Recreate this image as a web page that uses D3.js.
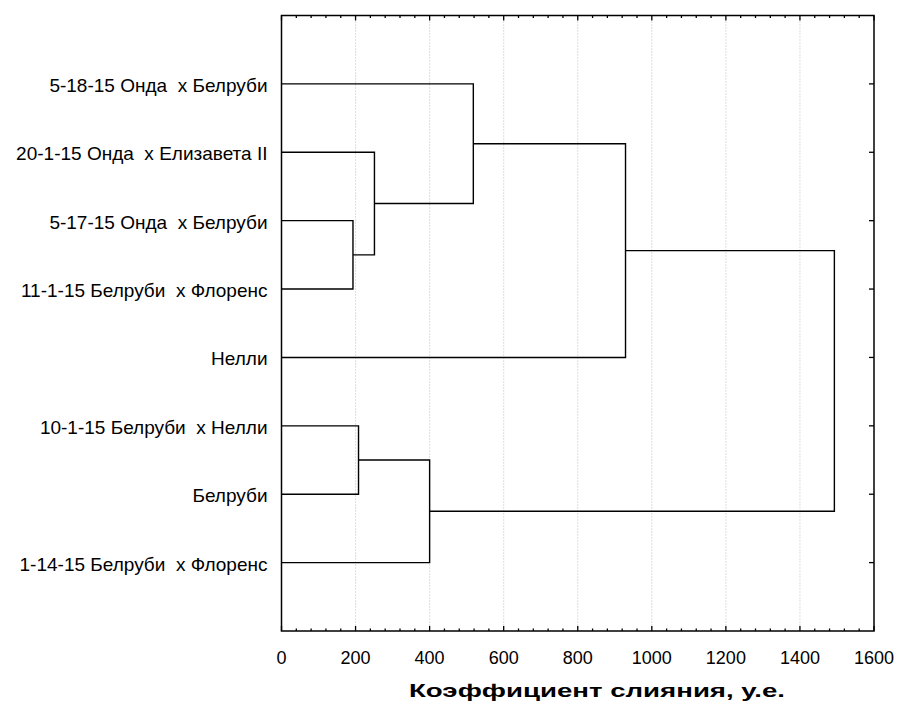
<!DOCTYPE html>
<html>
<head>
<meta charset="utf-8">
<script src="https://cdn.jsdelivr.net/npm/d3@7"></script>
<style>
  body { margin: 0; background: #fff; }
  svg { display: block; }
</style>
</head>
<body>
<div id="container"></div>
<script>
/* CONSTANTS AND GLOBALS */
const width = 898,
  height = 706,
  margin = ({top: 15.5, right: 24, bottom: 75, left: 281.5})

// leaves, top to bottom
const leaves = [
  "5-18-15 Онда  х Белруби",
  "20-1-15 Онда  х Елизавета II",
  "5-17-15 Онда  х Белруби",
  "11-1-15 Белруби  х Флоренс",
  "Нелли",
  "10-1-15 Белруби  х Нелли",
  "Белруби",
  "1-14-15 Белруби  х Флоренс"
];

// merges: node ids (0-7 leaves, 8+ earlier merges) and linkage distance
const mergePairs = [[2, 3], [1, 8], [0, 9], [10, 4], [5, 6], [12, 7], [11, 13]];
const mergeHeights = [193, 251, 518, 929, 208, 400, 1493];

const xTicks = [0, 200, 400, 600, 800, 1000, 1200, 1400, 1600];
const xTitle = "Коэффициент слияния, у.е.";

const plotRight = width - margin.right;
const plotBottom = height - margin.bottom;

const x = d3.scaleLinear()
  .domain([0, 1600])
  .range([margin.left, plotRight]);

const y = d3.scaleLinear()
  .domain([0, leaves.length + 1])
  .range([margin.top, plotBottom]);

// node positions
let nodes = leaves.map((d, i) => ({pos: i + 1, h: 0}));
mergePairs.forEach((p, i) => {
  nodes.push({pos: (nodes[p[0]].pos + nodes[p[1]].pos) / 2, h: mergeHeights[i], a: p[0], b: p[1]});
});

const svg = d3.select("#container")
  .append("svg")
  .attr("width", width)
  .attr("height", height)
  .attr("font-family", "Arial, 'Liberation Sans', sans-serif");

// grid
svg.append("g")
  .selectAll("line")
  .data(xTicks.slice(1, -1))
  .join("line")
  .attr("x1", d => x(d))
  .attr("x2", d => x(d))
  .attr("y1", y(0))
  .attr("y2", y(leaves.length + 1))
  .attr("stroke", "#bdbdbd")
  .attr("stroke-width", 1)
  .attr("stroke-dasharray", "1,2");

// minor / major ticks top and bottom (inward)
const minor = d3.range(0, 1601, 40);
[y(0), y(leaves.length + 1)].forEach((yy, k) => {
  const dir = k === 0 ? 1 : -1;
  svg.append("g")
    .selectAll("line")
    .data(minor)
    .join("line")
    .attr("x1", d => x(d))
    .attr("x2", d => x(d))
    .attr("y1", yy)
    .attr("y2", d => yy + dir * (d % 200 === 0 ? 5 : 2.5))
    .attr("stroke", "#000")
    .attr("stroke-width", 1.3);
});

// right axis ticks at leaves
svg.append("g")
  .selectAll("line")
  .data(leaves)
  .join("line")
  .attr("x1", plotRight)
  .attr("x2", plotRight - 5)
  .attr("y1", (d, i) => y(i + 1))
  .attr("y2", (d, i) => y(i + 1))
  .attr("stroke", "#000")
  .attr("stroke-width", 1.3);

// frame
svg.append("rect")
  .attr("x", x(0))
  .attr("y", y(0))
  .attr("width", x(1600) - x(0))
  .attr("height", y(leaves.length + 1) - y(0))
  .attr("fill", "none")
  .attr("stroke", "#000")
  .attr("stroke-width", 1.5);

// dendrogram links
svg.append("g")
  .selectAll("path")
  .data(nodes.slice(leaves.length))
  .join("path")
  .attr("fill", "none")
  .attr("stroke", "#000")
  .attr("stroke-width", 1.4)
  .attr("d", d => {
    const A = nodes[d.a], B = nodes[d.b];
    return `M${x(A.h)},${y(A.pos)}H${x(d.h)}V${y(B.pos)}H${x(B.h)}`;
  });

// leaf labels
svg.append("g")
  .selectAll("text")
  .data(leaves)
  .join("text")
  .attr("x", x(0) - 14)
  .attr("y", (d, i) => y(i + 1))
  .attr("dy", "0.42em")
  .attr("text-anchor", "end")
  .attr("font-size", 19)
  .attr("fill", "#000")
  .style("white-space", "pre")
  .text(d => d);

// x tick labels
svg.append("g")
  .selectAll("text")
  .data(xTicks)
  .join("text")
  .attr("x", d => x(d))
  .attr("y", 664)
  .attr("text-anchor", "middle")
  .attr("font-size", 18)
  .attr("fill", "#000")
  .text(d => d);

// axis title
svg.append("text")
  .attr("x", 597)
  .attr("y", 697)
  .attr("text-anchor", "middle")
  .attr("font-size", 18)
  .attr("font-weight", "bold")
  .attr("fill", "#000")
  .attr("textLength", 376)
  .attr("lengthAdjust", "spacingAndGlyphs")
  .text(xTitle);
</script>
</body>
</html>
